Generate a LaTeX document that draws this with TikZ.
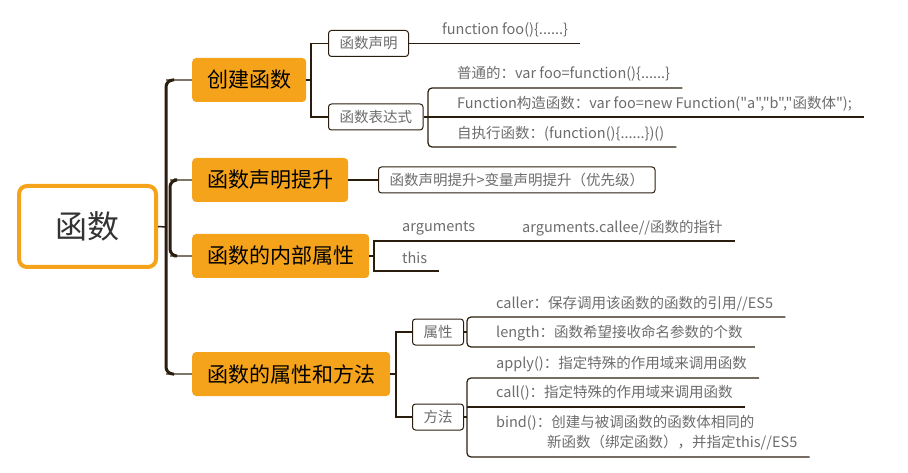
\documentclass[tikz,border=0pt]{standalone}
\usepackage{fontspec}
\setmainfont{Noto Sans CJK SC}[Ligatures=TeXOff]
\definecolor{branchorange}{RGB}{244,163,27}
\definecolor{linebrown}{RGB}{43,29,14}
\definecolor{leafgray}{RGB}{108,108,108}
\definecolor{stemgray}{RGB}{125,118,105}
\tikzset{
  rootbox/.style={draw=branchorange, line width=4pt, rounded corners=8pt, fill=white,
    minimum width=137pt, minimum height=81pt, font=\fontsize{32}{36}\selectfont, text=black!80},
  branchbox/.style={fill=branchorange, rounded corners=4pt, minimum height=44pt,
    inner xsep=15pt, font=\fontsize{21}{24}\selectfont, anchor=west},
  subbox/.style={draw=linebrown, line width=1pt, rounded corners=3pt, fill=white,
    minimum height=26pt, inner xsep=11pt, inner ysep=0pt,
    font=\fontsize{14.5}{17}\selectfont, text=leafgray, anchor=west},
  leaf/.style={inner xsep=12pt, inner ysep=2pt, font=\fontsize{14.5}{20}\selectfont,
    text=leafgray, anchor=west},
  link/.style={draw=linebrown, line width=1.2pt},
  trunk/.style={draw=linebrown, line width=3pt, rounded corners=7pt},
  stem/.style={draw=stemgray, line width=2pt},
}

\begin{document}
\begin{tikzpicture}[x=1pt, y=-1pt]
    \useasboundingbox (0,0) rectangle (908,473);
    % root and main branches
    \node[rootbox] (root) at (87.5,226.5) {函数};
    \node[branchbox] (create) at (192,80) {创建函数};
    \node[branchbox] (hoist) at (192,180) {函数声明提升};
    \node[branchbox] (inner) at (192,256) {函数的内部属性};
    \node[branchbox] (propmeth) at (192,374) {函数的属性和方法};
    % trunk
    \coordinate (t-top) at (166,80);
    \coordinate (t-bot) at (166,374);
    \coordinate (t-root) at (166,227);
    \coordinate (t-hoist) at (170,180);
    \coordinate (t-inner) at (170,256);
    \draw[stem] (t-top) -- (create.west);
    \draw[stem] (t-hoist) -- (hoist.west);
    \draw[stem] (t-inner) -- (inner.west);
    \draw[stem] (t-bot) -- (propmeth.west);
    \draw[link, line width=1.5pt] (root.east) -- (t-root);
    \draw[trunk] ([xshift=8pt]t-top) -- (t-top) -- (t-bot) -- ([xshift=8pt]t-bot);
    \draw[trunk] ([xshift=4pt]t-hoist) -- (t-hoist) -- (t-inner) -- ([xshift=4pt]t-inner);
    % create
    \node[subbox] (decl) at (328,43.5) {函数声明};
    \node[subbox] (expr) at (328,117) {函数表达式};
    \coordinate (c-fork) at (311,80);
    \draw[link] (create.east) -- (c-fork);
    \draw[link] (decl.west) -| (c-fork) |- (expr.west);
    \node[leaf] (declleaf) at (430,30) {function foo()\{......\}};
    \draw[link] (decl.east) -- (decl.east -| declleaf.east);
    \node[leaf] (plain) at (445,74) {普通的：var foo=function()\{......\}};
    \node[leaf] (ctor) at (445,104) {Function构造函数：var foo=new Function("a","b","函数体");};
    \node[leaf] (iife) at (445,134) {自执行函数：(function()\{......\})()};
    \coordinate (e-top) at (428,88);
    \coordinate (e-mid) at (428,117);
    \coordinate (e-bot) at (428,147);
    \draw[link, rounded corners=4pt] (e-top -| plain.east) -- (e-top) -- (e-bot) -- (e-bot -| iife.east);
    \draw[link] (expr.east) -- (e-mid -| ctor.east);
    % hoisting
    \node[subbox] (hoistnote) at (378,180) {函数声明提升>变量声明提升（优先级）};
    \draw[link] (hoist.east) -- (hoistnote.west);
    % inner properties
    \node[leaf] (args) at (390,228) {arguments};
    \node[leaf] (callee) at (510,228) {arguments.callee//函数的指针};
    \node[leaf] (thisleaf) at (390,258) {this};
    \coordinate (i-top) at (374,241);
    \coordinate (i-mid) at (374,256);
    \coordinate (i-bot) at (374,271);
    \draw[link] (i-top -| callee.east) -- (i-top) -- (i-bot) -- (i-bot -| thisleaf.east);
    \draw[link] (inner.east) -- (i-mid);
    % properties and methods
    \node[subbox] (prop) at (412,332) {属性};
    \node[subbox] (meth) at (412,417) {方法};
    \coordinate (p-fork) at (396,374);
    \draw[link] (propmeth.east) -- (p-fork);
    \draw[link] (prop.west) -| (p-fork) |- (meth.west);
    \node[leaf] (caller) at (484,304) {caller：保存调用该函数的函数的引用//ES5};
    \node[leaf] (lengthleaf) at (484,333) {length：函数希望接收命名参数的个数};
    \coordinate (a-top) at (467,317);
    \coordinate (a-mid) at (467,332);
    \coordinate (a-bot) at (467,347);
    \draw[link, rounded corners=4pt] (a-top -| caller.east) -- (a-top) -- (a-bot) -- (a-bot -| lengthleaf.east);
    \draw[link] (prop.east) -- (a-mid);
    \node[leaf] (apply) at (484,364) {apply()：指定特殊的作用域来调用函数};
    \node[leaf] (callleaf) at (484,393) {call()：指定特殊的作用域来调用函数};
    \node[leaf, align=left] (bind) at (484,433) {bind()：创建与被调函数的函数体相同的\\\hspace*{51pt}新函数（绑定函数），并指定this//ES5};
    \coordinate (m-top) at (467,378);
    \coordinate (m-call) at (467,407);
    \coordinate (m-mid) at (467,417);
    \coordinate (m-bot) at (467,457);
    \draw[link, rounded corners=4pt] (m-top -| apply.east) -- (m-top) -- (m-bot) -- (m-bot -| bind.east);
    \draw[link] (m-call) -- (m-call -| callleaf.east);
    \draw[link] (meth.east) -- (m-mid);
\end{tikzpicture}
\end{document}
